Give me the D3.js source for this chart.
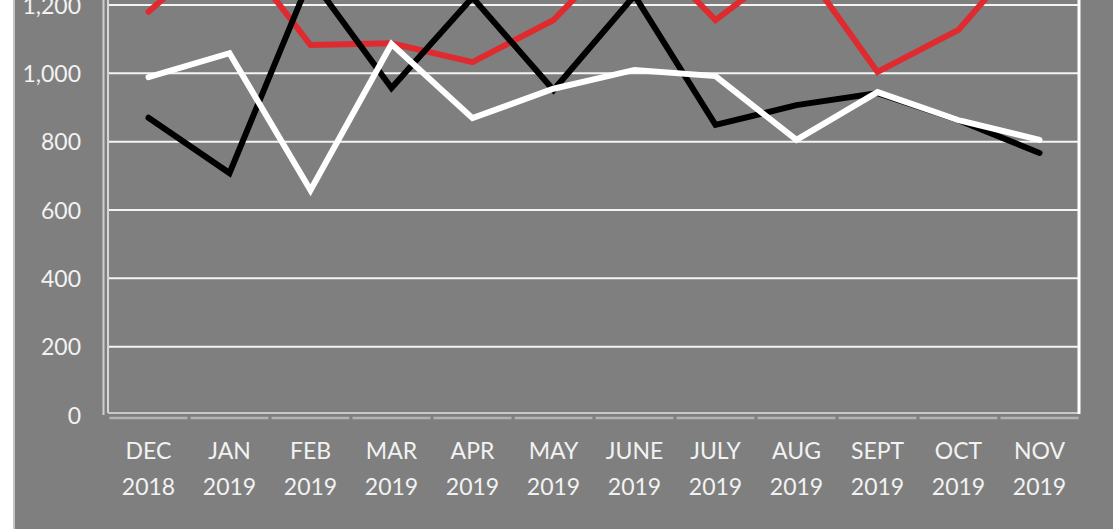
<!DOCTYPE html>
<html>
<head>
<meta charset="utf-8">
<script src="https://cdn.jsdelivr.net/npm/d3@7"></script>
<style>
  html, body { margin: 0; padding: 0; background: #ffffff; }
  svg { display: block; }
</style>
</head>
<body>
<svg id="chart" width="1113" height="529"></svg>
<script>
// ---- data ----
const monthLabels = ["DEC", "JAN", "FEB", "MAR", "APR", "MAY", "JUNE", "JULY", "AUG", "SEPT", "OCT", "NOV"];
const yearLabels  = ["2018", "2019", "2019", "2019", "2019", "2019", "2019", "2019", "2019", "2019", "2019", "2019"];
const redSeries   = [1180, 1390, 1083, 1088, 1033, 1156, 1400, 1156, 1335, 1004, 1127, 1400];
const blackSeries = [870, 708, 1280, 957, 1222, 951, 1228, 849, 907, 942, 863, 767];
const whiteSeries = [989, 1059, 658, 1086, 869, 955, 1010, 992, 805, 945, 863, 805];
const yTicks = [0, 200, 400, 600, 800, 1000, 1200];

const series = [
  { name: "red", values: redSeries, color: "#df2a30" },
  { name: "black", values: blackSeries, color: "#000000" },
  { name: "white", values: whiteSeries, color: "#ffffff" }
];

// ---- layout ----
const W = 1113, H = 529;
const plotL = 108, plotR = 1080, plotB = 415, plotTopVal = 5;
const svg = d3.select("#chart");

// backgrounds
svg.append("rect").attr("x", 0).attr("y", 0).attr("width", W).attr("height", H).attr("fill", "#ffffff");
svg.append("rect").attr("x", 14).attr("y", 0).attr("width", W - 14).attr("height", H).attr("fill", "#7f7f7f");
svg.append("line").attr("x1", 14).attr("x2", 14).attr("y1", 0).attr("y2", H)
   .attr("stroke", "#c4c4c4").attr("stroke-width", 2);

const x = d3.scalePoint().domain(d3.range(monthLabels.length)).range([plotL, plotR]).padding(0.5);
const y = d3.scaleLinear().domain([0, 1200]).range([plotB, plotTopVal]);

// gridlines
svg.append("g").selectAll("line").data(yTicks.filter(d => d > 0)).join("line")
  .attr("x1", plotL).attr("x2", plotR - 2)
  .attr("y1", d => y(d)).attr("y2", d => y(d))
  .attr("stroke", "#f4f4f4").attr("stroke-width", 2);

// left axis lines
svg.append("line").attr("x1", 103.5).attr("x2", 103.5).attr("y1", 0).attr("y2", plotB)
  .attr("stroke", "#cfcfcf").attr("stroke-width", 2);
svg.append("line").attr("x1", 108).attr("x2", 108).attr("y1", 0).attr("y2", plotB - 2)
  .attr("stroke", "#d6d6d6").attr("stroke-width", 2);
// bottom frame
svg.append("line").attr("x1", 108).attr("x2", plotR).attr("y1", plotB - 2).attr("y2", plotB - 2)
  .attr("stroke", "#c8c8c8").attr("stroke-width", 2);
// segmented category axis
const step = x.step();
svg.append("g").selectAll("line").data(d3.range(monthLabels.length)).join("line")
  .attr("x1", d => x(d) - step / 2 + 1.5).attr("x2", d => x(d) + step / 2 - 1.5)
  .attr("y1", plotB + 3).attr("y2", plotB + 3)
  .attr("stroke", "#b3b3b3").attr("stroke-width", 2.5);
// right frame
svg.append("line").attr("x1", plotR - 1).attr("x2", plotR - 1).attr("y1", 0).attr("y2", plotB - 1)
  .attr("stroke", "#ffffff").attr("stroke-width", 3);

// y tick labels
const yAxis = d3.axisLeft(y).tickValues(yTicks).tickSize(0).tickPadding(0)
  .tickFormat(d3.format(","));
const gy = svg.append("g").attr("transform", "translate(81,0)").call(yAxis);
gy.select(".domain").remove();
gy.selectAll("text").attr("fill", "#f2f2f2").attr("font-family", "Lato, 'Open Sans', sans-serif")
  .attr("font-size", 23).attr("dy", "0.36em");

// x labels
const gx = svg.append("g");
gx.selectAll("text.m").data(monthLabels).join("text").attr("class", "m")
  .attr("x", (d, i) => x(i)).attr("y", 451).attr("dy", "0.36em")
  .attr("text-anchor", "middle").attr("fill", "#f2f2f2")
  .attr("font-family", "Lato, 'Open Sans', sans-serif").attr("font-size", 23)
  .text(d => d);
gx.selectAll("text.yr").data(yearLabels).join("text").attr("class", "yr")
  .attr("x", (d, i) => x(i)).attr("y", 487).attr("dy", "0.36em")
  .attr("text-anchor", "middle").attr("fill", "#f2f2f2")
  .attr("font-family", "Lato, 'Open Sans', sans-serif").attr("font-size", 23)
  .text(d => d);

// lines
const line = d3.line().x((d, i) => x(i)).y(d => y(d));
svg.append("g").selectAll("path").data(series).join("path")
  .attr("d", d => line(d.values))
  .attr("fill", "none").attr("stroke", d => d.color).attr("stroke-width", 6)
  .attr("stroke-linejoin", "miter").attr("stroke-linecap", "round");
</script>
</body>
</html>
